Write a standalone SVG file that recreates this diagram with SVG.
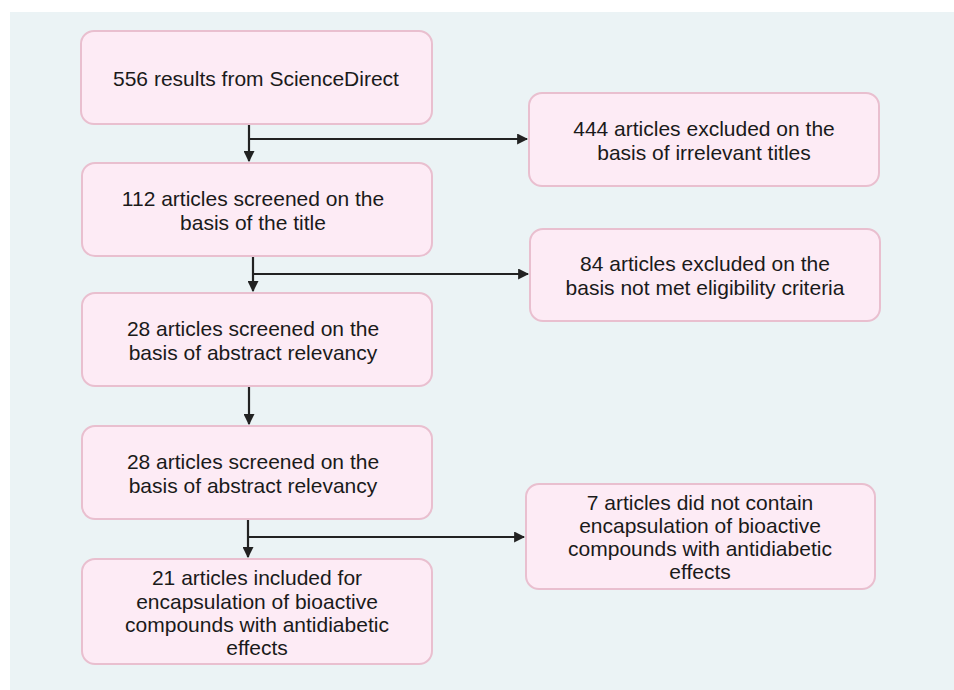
<svg xmlns="http://www.w3.org/2000/svg" width="954" height="690" viewBox="0 0 954 690">
<style>
.box{fill:#fdebf5;stroke:#e9bfcf;stroke-width:2}
.t{font-family:"Liberation Sans",Arial,sans-serif;font-size:21px;fill:#1a1a1a;text-anchor:middle}
.c{stroke:#222;stroke-width:2.2;fill:none}
</style>
<defs>
<marker id="ah" viewBox="0 0 10 10" refX="9" refY="5" markerWidth="5" markerHeight="5" orient="auto" markerUnits="strokeWidth">
<path d="M0,0 L10,5 L0,10 z" fill="#222"/>
</marker>
</defs>
<rect x="0" y="0" width="954" height="690" fill="#ffffff"/>
<rect x="10" y="12" width="944" height="678" fill="#ebf3f5"/>
<g id="connectors">
<path class="c" d="M249,125 V161" marker-end="url(#ah)"/>
<path class="c" d="M249,139 H527" marker-end="url(#ah)"/>
<path class="c" d="M253,257 V291" marker-end="url(#ah)"/>
<path class="c" d="M253,274 H528" marker-end="url(#ah)"/>
<path class="c" d="M249,387 V424" marker-end="url(#ah)"/>
<path class="c" d="M248,520 V557" marker-end="url(#ah)"/>
<path class="c" d="M248,537 H524" marker-end="url(#ah)"/>
</g>
<g id="n1"><rect class="box" x="81" y="31" width="351" height="93" rx="13"/><text class="t" x="256" y="86">556 results from ScienceDirect</text></g>
<g id="n2"><rect class="box" x="82" y="163" width="350" height="93" rx="13"/><text class="t" x="253" y="206">112 articles screened on the</text><text class="t" x="253" y="230">basis of the title</text></g>
<g id="n3"><rect class="box" x="82" y="293" width="350" height="93" rx="13"/><text class="t" x="253" y="336">28 articles screened on the</text><text class="t" x="253" y="360">basis of abstract relevancy</text></g>
<g id="n4"><rect class="box" x="82" y="426" width="350" height="93" rx="13"/><text class="t" x="253" y="469">28 articles screened on the</text><text class="t" x="253" y="493">basis of abstract relevancy</text></g>
<g id="n5"><rect class="box" x="82" y="559" width="350" height="105" rx="13"/><text class="t" x="257" y="585">21 articles included for</text><text class="t" x="257" y="609">encapsulation of bioactive</text><text class="t" x="257" y="632">compounds with antidiabetic</text><text class="t" x="257" y="655">effects</text></g>
<g id="e1"><rect class="box" x="529" y="93" width="350" height="93" rx="13"/><text class="t" x="704" y="136">444 articles excluded on the</text><text class="t" x="704" y="160">basis of irrelevant titles</text></g>
<g id="e2"><rect class="box" x="530" y="229" width="350" height="92" rx="13"/><text class="t" x="705" y="271">84 articles excluded on the</text><text class="t" x="705" y="295">basis not met eligibility criteria</text></g>
<g id="e3"><rect class="box" x="526" y="484" width="349" height="105" rx="13"/><text class="t" x="700" y="510">7 articles did not contain</text><text class="t" x="700" y="533">encapsulation of bioactive</text><text class="t" x="700" y="556">compounds with antidiabetic</text><text class="t" x="700" y="579">effects</text></g>
</svg>
